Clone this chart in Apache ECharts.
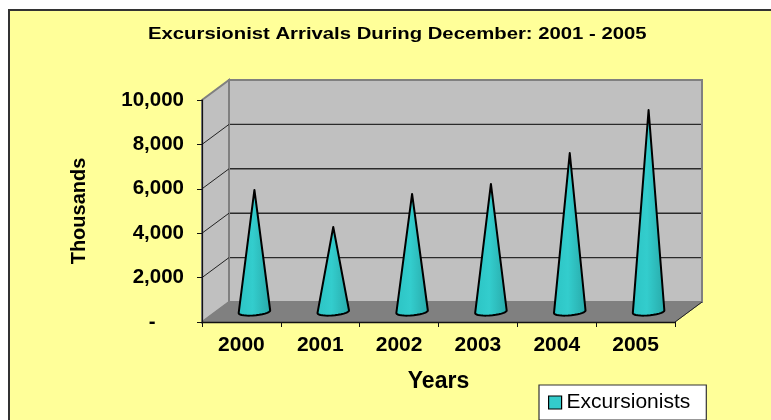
<!DOCTYPE html>
<html><head><meta charset="utf-8">
<style>html,body{margin:0;padding:0;background:#fff}#c{width:771px;height:420px}</style>
<script src="https://cdn.jsdelivr.net/npm/echarts@6/dist/echarts.min.js"></script>
</head><body><div id="c"></div>
<script>
var years = ['2000','2001','2002','2003','2004','2005'];
var excursionists = [5500, 3830, 5320, 5770, 7160, 9100];
var yTicks = [0, 2000, 4000, 6000, 8000, 10000];
var yLabels = {0:'-     ',2000:'2,000',4000:'4,000',6000:'6,000',8000:'8,000',10000:'10,000'};
var titleText = 'Excursionist Arrivals During December: 2001 - 2005';
var DEPTH_X = 27, DEPTH_Y = 20;

var chart = echarts.init(document.getElementById('c'), null, {renderer:'canvas'});
function wall(params, api){
  var cs = params.coordSys, L = cs.x, R = cs.x+cs.width, T = cs.y, B = cs.y+cs.height;
  var kids = [];
  kids.push({type:'polygon',shape:{points:[[L+DEPTH_X,T-DEPTH_Y],[R+DEPTH_X,T-DEPTH_Y],[R+DEPTH_X,B-DEPTH_Y],[L+DEPTH_X,B-DEPTH_Y]]},style:{fill:'#c0c0c0',stroke:'#808080',lineWidth:2}});
  kids.push({type:'polygon',shape:{points:[[L,T],[L+DEPTH_X,T-DEPTH_Y],[L+DEPTH_X,B-DEPTH_Y],[L,B]]},style:{fill:'#c0c0c0',stroke:'#808080',lineWidth:2}});
  kids.push({type:'polygon',shape:{points:[[L,B],[L+DEPTH_X,B-DEPTH_Y],[R+DEPTH_X,B-DEPTH_Y],[R,B]]},style:{fill:'#808080',stroke:'#808080',lineWidth:1}});
  yTicks.forEach(function(v){
    if(v===0||v===10000) return;
    var y = api.coord([years[0],v])[1];
    kids.push({type:'polyline',shape:{points:[[L,y],[L+DEPTH_X,y-DEPTH_Y]]},style:{fill:null,stroke:'#222',lineWidth:1}});
    kids.push({type:'line',shape:{x1:L+DEPTH_X+1,y1:y-DEPTH_Y,x2:R+DEPTH_X-1,y2:y-DEPTH_Y},style:{stroke:'#2a2a2a',lineWidth:1.4}});
  });
  kids.push({type:'line',shape:{x1:R,y1:B,x2:R+DEPTH_X,y2:B-DEPTH_Y},style:{stroke:'#222',lineWidth:1}});
  return {type:'group',children:kids};
}
function cone(params, api){
  var p = api.coord([api.value(0),0]);
  var top = api.coord([api.value(0),api.value(1)]);
  var w = api.size([1,0])[0]*0.4/2;
  var cx = p[0]+DEPTH_X/2-0.5, cy = p[1]-DEPTH_Y/2;
  var tipY = top[1]-DEPTH_Y/2;
  var pts = [[cx,tipY]];
  for(var a=0;a<=180;a+=12){
    var r=a*Math.PI/180;
    var ex=Math.cos(r)*w, ey=Math.sin(r)*3.6;
    pts.push([cx+ex, cy+ey-Math.cos(r)*1.3-0.2]);
  }
  return {type:'polygon',shape:{points:pts},style:{
    fill:{type:'linear',x:0,y:0,x2:1,y2:0,colorStops:[
      {offset:0,color:'#2cc4c4'},{offset:0.45,color:'#33cdcd'},{offset:0.75,color:'#2db9b9'},{offset:1,color:'#27a9a9'}]},
    stroke:'#000',lineWidth:2,lineJoin:'round'}};
}
chart.setOption({
  animation:false,
  backgroundColor:'#fff',
  textStyle:{fontFamily:'Liberation Sans'},
  graphic:[
    {type:'rect',z:-10,shape:{x:9,y:10,width:780,height:430},style:{fill:'#ffff99',stroke:'#333',lineWidth:2}},
    {type:'text',x:148,y:26,scaleX:1.23,z:5,style:{text:titleText,fill:'#000',font:'bold 16.5px "Liberation Sans"'}}
  ],
  legend:{data:['Excursionists'],left:539,top:385,padding:[7,16,7,9],itemWidth:13,itemHeight:13,itemGap:7,
    backgroundColor:'#fff',borderColor:'#333',borderWidth:1.2,borderRadius:0,icon:'rect',
    itemStyle:{color:'#33cccc',borderColor:'#000',borderWidth:1.2},
    textStyle:{fontFamily:'Liberation Sans',fontSize:21,color:'#000',padding:0}},
  grid:{left:202,top:100,width:473,height:222,containLabel:false},
  xAxis:{type:'category',data:years,name:'Years',nameLocation:'middle',nameGap:48,
    nameTextStyle:{fontFamily:'Liberation Sans',fontWeight:'bold',fontSize:23,color:'#000'},
    axisLine:{lineStyle:{color:'#111',width:1.4}},axisTick:{show:true,length:5,lineStyle:{color:'#111',width:1},alignWithLabel:false},
    axisLabel:{margin:13,fontFamily:'Liberation Sans',fontWeight:'bold',fontSize:21,color:'#000',interval:0},
    splitLine:{show:false},z:5},
  yAxis:{type:'value',min:0,max:10000,interval:2000,name:'Thousands',nameLocation:'middle',nameGap:113,
    nameTextStyle:{fontFamily:'Liberation Sans',fontWeight:'bold',fontSize:20,color:'#000'},
    axisLine:{show:true,lineStyle:{color:'#111',width:1.2}},axisTick:{show:true,length:5,lineStyle:{color:'#111',width:1}},
    axisLabel:{margin:18,fontFamily:'Liberation Sans',fontWeight:'bold',fontSize:20.5,color:'#000',
      formatter:function(v){return yLabels[v];}},
    splitLine:{show:false},z:5},
  series:[
    {name:'Walls',type:'custom',data:[[years[0],0]],renderItem:wall,clip:false,silent:true,z:1,encode:{x:0,y:1}},
    {name:'Excursionists',type:'custom',data:years.map(function(y,i){return [y,excursionists[i]];}),renderItem:cone,clip:false,z:3,
     itemStyle:{color:'#33cccc'},encode:{x:0,y:1}}
  ]
});
</script></body></html>
